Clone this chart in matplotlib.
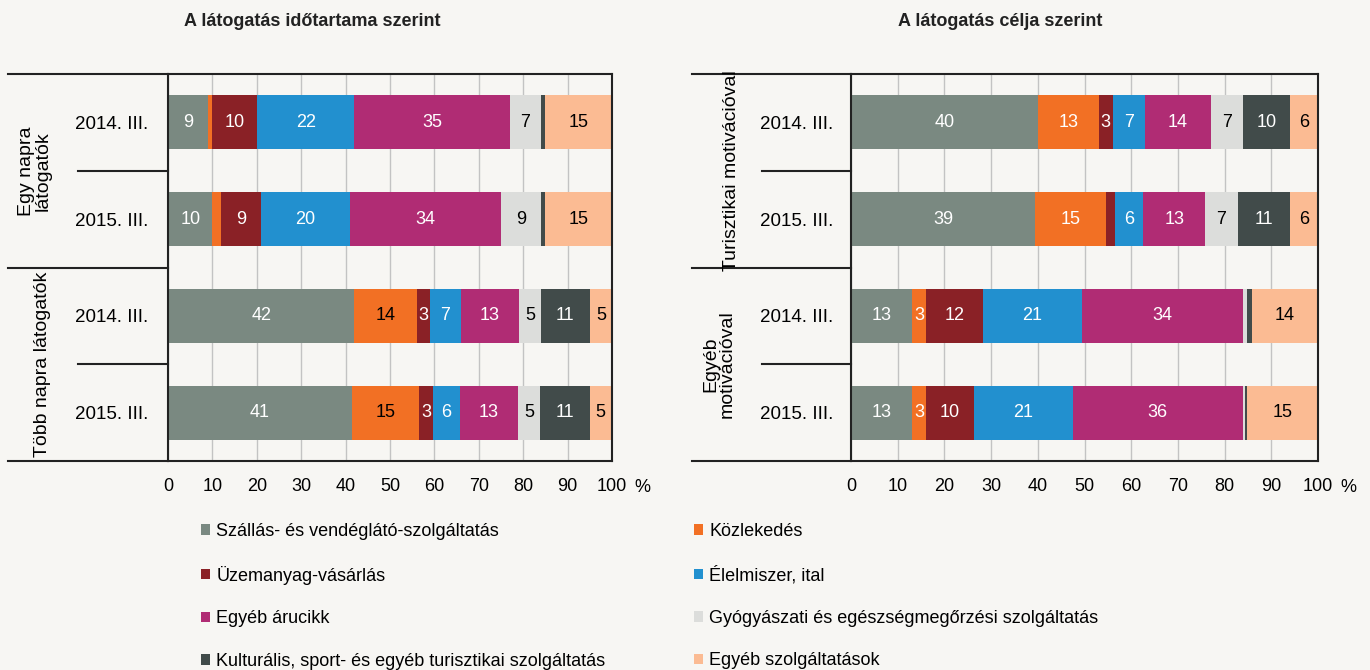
import matplotlib.pyplot as plt
import matplotlib.transforms as mtransforms
from matplotlib.lines import Line2D
from matplotlib.patches import Patch
import numpy as np

plt.rcParams["font.family"] = ["Liberation Sans", "DejaVu Sans"]

categories = [
    "Szállás- és vendéglátó-szolgáltatás",
    "Közlekedés",
    "Üzemanyag-vásárlás",
    "Élelmiszer, ital",
    "Egyéb árucikk",
    "Gyógyászati és egészségmegőrzési szolgáltatás",
    "Kulturális, sport- és egyéb turisztikai szolgáltatás",
    "Egyéb szolgáltatások",
]
colors = ["#7a8981", "#f27024", "#8a2126", "#2290cf", "#b02c74",
          "#dcdddb", "#414b4a", "#fbbb93"]

row_labels = ["2014. III.", "2015. III.", "2014. III.", "2015. III."]

# A látogatás időtartama szerint (Egy napra 2014, 2015; Több napra 2014, 2015)
duration_values = [
    [9, 1, 10, 22, 35, 7, 1, 15],
    [10, 2, 9, 20, 34, 9, 1, 15],
    [42, 14, 3, 7, 13, 5, 11, 5],
    [41, 15, 3, 6, 13, 5, 11, 5],
]
duration_groups = ["Egy napra\nlátogatók", "Több napra látogatók"]

# A látogatás célja szerint (Turisztikai 2014, 2015; Egyéb 2014, 2015)
purpose_values = [
    [40, 13, 3, 7, 14, 7, 10, 6],
    [39, 15, 2, 6, 13, 7, 11, 6],
    [13, 3, 12, 21, 34, 1, 1, 14],
    [13, 3, 10, 21, 36, 0.5, 0.5, 15],
]
purpose_groups = ["Turisztikai motivációval", "Egyéb\nmotivációval"]

bg = "#f7f6f3"
W, H = 1370, 670
fig = plt.figure(figsize=(W / 100, H / 100), dpi=100, facecolor=bg)


def draw_panel(rect, values, groups, title, title_x, line_x0, sub_x0, group_x,
               orange_text, tick_pad):
    ax = fig.add_axes(rect, facecolor=bg)
    vals = np.array(values, dtype=float)
    shares = vals / vals.sum(axis=1, keepdims=True) * 100
    y = np.arange(len(vals))
    left = np.zeros(len(vals))
    text_cols = ["white", orange_text, "white", "white", "white",
                 "black", "white", "black"]
    for j in range(vals.shape[1]):
        ax.barh(y, shares[:, j], left=left, height=0.56, color=colors[j],
                edgecolor="none", zorder=2)
        for i in range(len(vals)):
            if vals[i, j] >= 3:
                ax.text(left[i] + shares[i, j] / 2, y[i], f"{vals[i, j]:g}",
                        ha="center", va="center", fontsize=13,
                        color=text_cols[j], zorder=3)
        left += shares[:, j]

    ax.set_xlim(0, 100)
    ax.set_ylim(3.5, -0.5)
    ax.set_xticks(np.arange(0, 101, 10))
    ax.set_yticks(y)
    ax.set_yticklabels(row_labels)
    ax.tick_params(axis="x", length=0, pad=12, labelsize=13)
    ax.tick_params(axis="y", length=0, pad=tick_pad, labelsize=13.5)
    ax.grid(axis="x", color="#c3c3c3", linewidth=1, zorder=0)
    ax.set_axisbelow(True)
    for s in ax.spines.values():
        s.set_color("#222222")
        s.set_linewidth(1.5)
    ax.annotate("%", xy=(1, 0), xycoords="axes fraction", xytext=(22, -19),
                textcoords="offset points", ha="center", va="center",
                fontsize=13)

    tr = mtransforms.blended_transform_factory(fig.transFigure, ax.transData)
    x_ax = rect[0]
    for yy, x0 in [(-0.5, line_x0), (1.5, line_x0), (3.5, line_x0),
                   (0.5, sub_x0), (2.5, sub_x0)]:
        fig.add_artist(Line2D([x0 / W, x_ax], [yy, yy], transform=tr,
                              color="#222222", linewidth=1.5))
    for k, g in enumerate(groups):
        fig.text(group_x[k] / W, 0.5 + 2 * k, g, transform=tr, rotation=90,
                 ha="center", va="center", fontsize=14, linespacing=0.95)
    fig.text(title_x / W, 1 - 21 / H, title, ha="center", va="center",
             fontsize=13, fontweight="bold", color="#222222")
    return ax


draw_panel([168 / W, 1 - 461 / H, 444 / W, 387 / H], duration_values,
           duration_groups, "A látogatás időtartama szerint", 312, 8, 78,
           [35, 43], "black", 14)
draw_panel([851 / W, 1 - 461 / H, 467 / W, 387 / H], purpose_values,
           purpose_groups, "A látogatás célja szerint", 1000, 692, 762,
           [732, 719], "white", 13)

handles = [Patch(facecolor=c, edgecolor="none") for c in colors]
for col, x0 in [(0, 201), (1, 694)]:
    idx = [col, col + 2, col + 4, col + 6]
    fig.legend([handles[i] for i in idx], [categories[i] for i in idx],
               loc="upper left", bbox_to_anchor=(x0 / W, 1 - 523 / H),
               frameon=False, fontsize=13, handlelength=0.5, handleheight=0.5,
               handletextpad=0.35, labelspacing=1.42, borderpad=0,
               borderaxespad=0)

fig.savefig("out.png", dpi=100, facecolor=bg)
